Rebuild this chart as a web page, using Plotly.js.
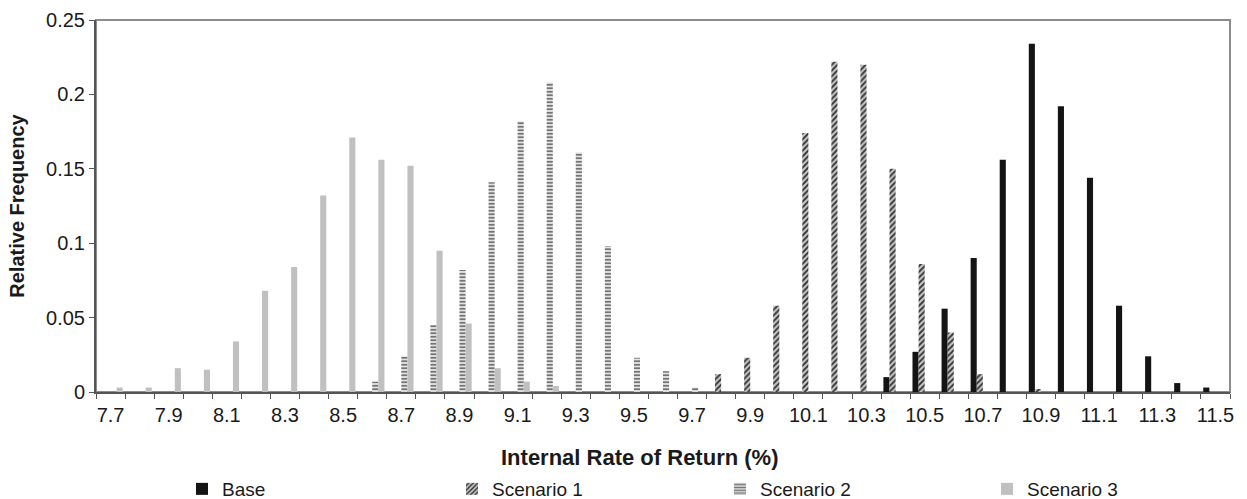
<!DOCTYPE html>
<html>
<head>
<meta charset="utf-8">
<script src="https://cdn.plot.ly/plotly-3.0.1.min.js"></script>
<style>
html,body{margin:0;padding:0;background:#fff;}
#chart{width:1247px;height:499px;}
</style>
</head>
<body>
<div id="chart"></div>
<script>
// Internal Rate of Return categories (%)
const irr = [7.7, 7.8, 7.9, 8.0, 8.1, 8.2, 8.3, 8.4, 8.5, 8.6,
             8.7, 8.8, 8.9, 9.0, 9.1, 9.2, 9.3, 9.4, 9.5, 9.6,
             9.7, 9.8, 9.9, 10.0, 10.1, 10.2, 10.3, 10.4, 10.5, 10.6,
             10.7, 10.8, 10.9, 11.0, 11.1, 11.2, 11.3, 11.4, 11.5];

const tickLabels = ["7.7","7.9","8.1","8.3","8.5","8.7","8.9","9.1","9.3","9.5",
                    "9.7","9.9","10.1","10.3","10.5","10.7","10.9","11.1","11.3","11.5"];
const tickPositions = [7.7, 7.9, 8.1, 8.3, 8.5, 8.7, 8.9, 9.1, 9.3, 9.5,
                       9.7, 9.9, 10.1, 10.3, 10.5, 10.7, 10.9, 11.1, 11.3, 11.5];

const seriesNames = ["Base", "Scenario 1", "Scenario 2", "Scenario 3"];

const base = [0, 0, 0, 0, 0, 0, 0, 0, 0, 0,
              0, 0, 0, 0, 0, 0, 0, 0, 0, 0,
              0, 0, 0, 0, 0, 0, 0, 0.010, 0.027, 0.056,
              0.090, 0.156, 0.234, 0.192, 0.144, 0.058, 0.024, 0.006, 0.003];

const scenario1 = [0, 0, 0, 0, 0, 0, 0, 0, 0, 0,
                   0, 0, 0, 0, 0, 0, 0, 0, 0, 0,
                   0, 0.012, 0.023, 0.058, 0.174, 0.222, 0.220, 0.150, 0.086, 0.040,
                   0.012, 0, 0.002, 0, 0, 0, 0, 0, 0];

const scenario2 = [0, 0, 0, 0, 0, 0, 0, 0, 0, 0.007,
                   0.024, 0.045, 0.082, 0.141, 0.182, 0.208, 0.161, 0.098, 0.023, 0.014,
                   0.003, 0, 0, 0, 0, 0, 0, 0, 0, 0,
                   0, 0, 0, 0, 0, 0, 0, 0, 0];

const scenario3 = [0.003, 0.003, 0.016, 0.015, 0.034, 0.068, 0.084, 0.132, 0.171, 0.156,
                   0.152, 0.095, 0.046, 0.016, 0.007, 0.004, 0, 0, 0, 0,
                   0, 0, 0, 0, 0, 0, 0, 0, 0, 0,
                   0, 0, 0, 0, 0, 0, 0, 0, 0];

const yTicks = [0, 0.05, 0.1, 0.15, 0.2, 0.25];
const yTickLabels = ["0", "0.05", "0.1", "0.15", "0.2", "0.25"];

// category boundaries for the tick marks (derived from categories)
const step = 0.1;
const boundaries = irr.map(v => +(v - step / 2).toFixed(3));
boundaries.push(+(irr[irr.length - 1] + step / 2).toFixed(3));

const FONT = '"Liberation Sans", Arial, sans-serif';
const TXT = '#1a1a1a';

const traces = [
  {
    type: 'bar', name: seriesNames[0], x: irr, y: base, legend: 'legend',
    marker: {color: '#141414', line: {width: 0}}
  },
  {
    type: 'bar', name: seriesNames[1], x: irr, y: scenario1, legend: 'legend2',
    marker: {color: '#c4c4c4', line: {width: 0},
      pattern: {shape: '/', fgcolor: '#2e2e2e', bgcolor: '#c4c4c4', size: 4, solidity: 0.45}}
  },
  {
    type: 'bar', name: seriesNames[2], x: irr, y: scenario2, legend: 'legend3',
    marker: {color: '#ffffff', line: {width: 0},
      pattern: {shape: '-', fgcolor: '#737373', bgcolor: '#ffffff', size: 3.5, solidity: 0.6}}
  },
  {
    type: 'bar', name: seriesNames[3], x: irr, y: scenario3, legend: 'legend4',
    marker: {color: '#c0c0c0', line: {width: 0}}
  }
];

function legendAt(px) {
  return {
    orientation: 'h', x: (px - 96) / 1134, xanchor: 'left',
    yref: 'container', y: 0.02, yanchor: 'middle',
    itemwidth: 30, font: {family: FONT, size: 19, color: TXT},
    bgcolor: 'rgba(0,0,0,0)', borderwidth: 0
  };
}

const layout = {
  width: 1247, height: 499,
  margin: {l: 96, r: 17, t: 20, b: 107},
  paper_bgcolor: '#ffffff', plot_bgcolor: '#ffffff',
  font: {family: FONT, size: 20, color: TXT},
  barmode: 'group', bargap: 0.16, bargroupgap: 0,
  showlegend: true,
  legend: legendAt(182),
  legend2: legendAt(452),
  legend3: legendAt(720),
  legend4: legendAt(987),
  xaxis: {
    type: 'linear', range: [irr[0] - step / 2, irr[irr.length - 1] + step / 2],
    tickmode: 'array', tickvals: tickPositions, ticktext: tickLabels,
    ticks: 'outside', ticklen: 4, tickcolor: 'rgba(0,0,0,0)', tickwidth: 1,
    minor: {tickmode: 'array', tickvals: boundaries, ticks: 'outside', ticklen: 5,
            tickcolor: '#555555', tickwidth: 1, showgrid: false},
    showgrid: false, zeroline: false,
    showline: true, linecolor: '#555555', linewidth: 2,
    tickfont: {family: FONT, size: 20, color: TXT},
    fixedrange: true
  },
  yaxis: {
    range: [0, 0.25], tickmode: 'array', tickvals: yTicks, ticktext: yTickLabels,
    ticks: 'outside', ticklen: 5, tickcolor: '#555555', tickwidth: 1,
    showgrid: false, zeroline: false,
    showline: true, linecolor: '#555555', linewidth: 2,
    tickfont: {family: FONT, size: 20, color: TXT},
    title: {text: 'Relative Frequency', font: {family: FONT, size: 20, color: TXT, weight: 'bold'}, standoff: 16},
    fixedrange: true
  },
  shapes: [
    {type: 'rect', xref: 'paper', yref: 'paper', x0: 0, x1: 1, y0: 0, y1: 1,
     line: {color: '#8c8c8c', width: 2}, fillcolor: 'rgba(0,0,0,0)', layer: 'below'}
  ],
  annotations: [
    {text: '<b>Internal Rate of Return (%)</b>', xref: 'paper', yref: 'paper',
     x: 0.4797, y: -0.175, xanchor: 'center', yanchor: 'middle', showarrow: false,
     font: {family: FONT, size: 22, color: TXT}}
  ]
};

Plotly.newPlot('chart', traces, layout, {displayModeBar: false, staticPlot: true});
</script>
</body>
</html>
